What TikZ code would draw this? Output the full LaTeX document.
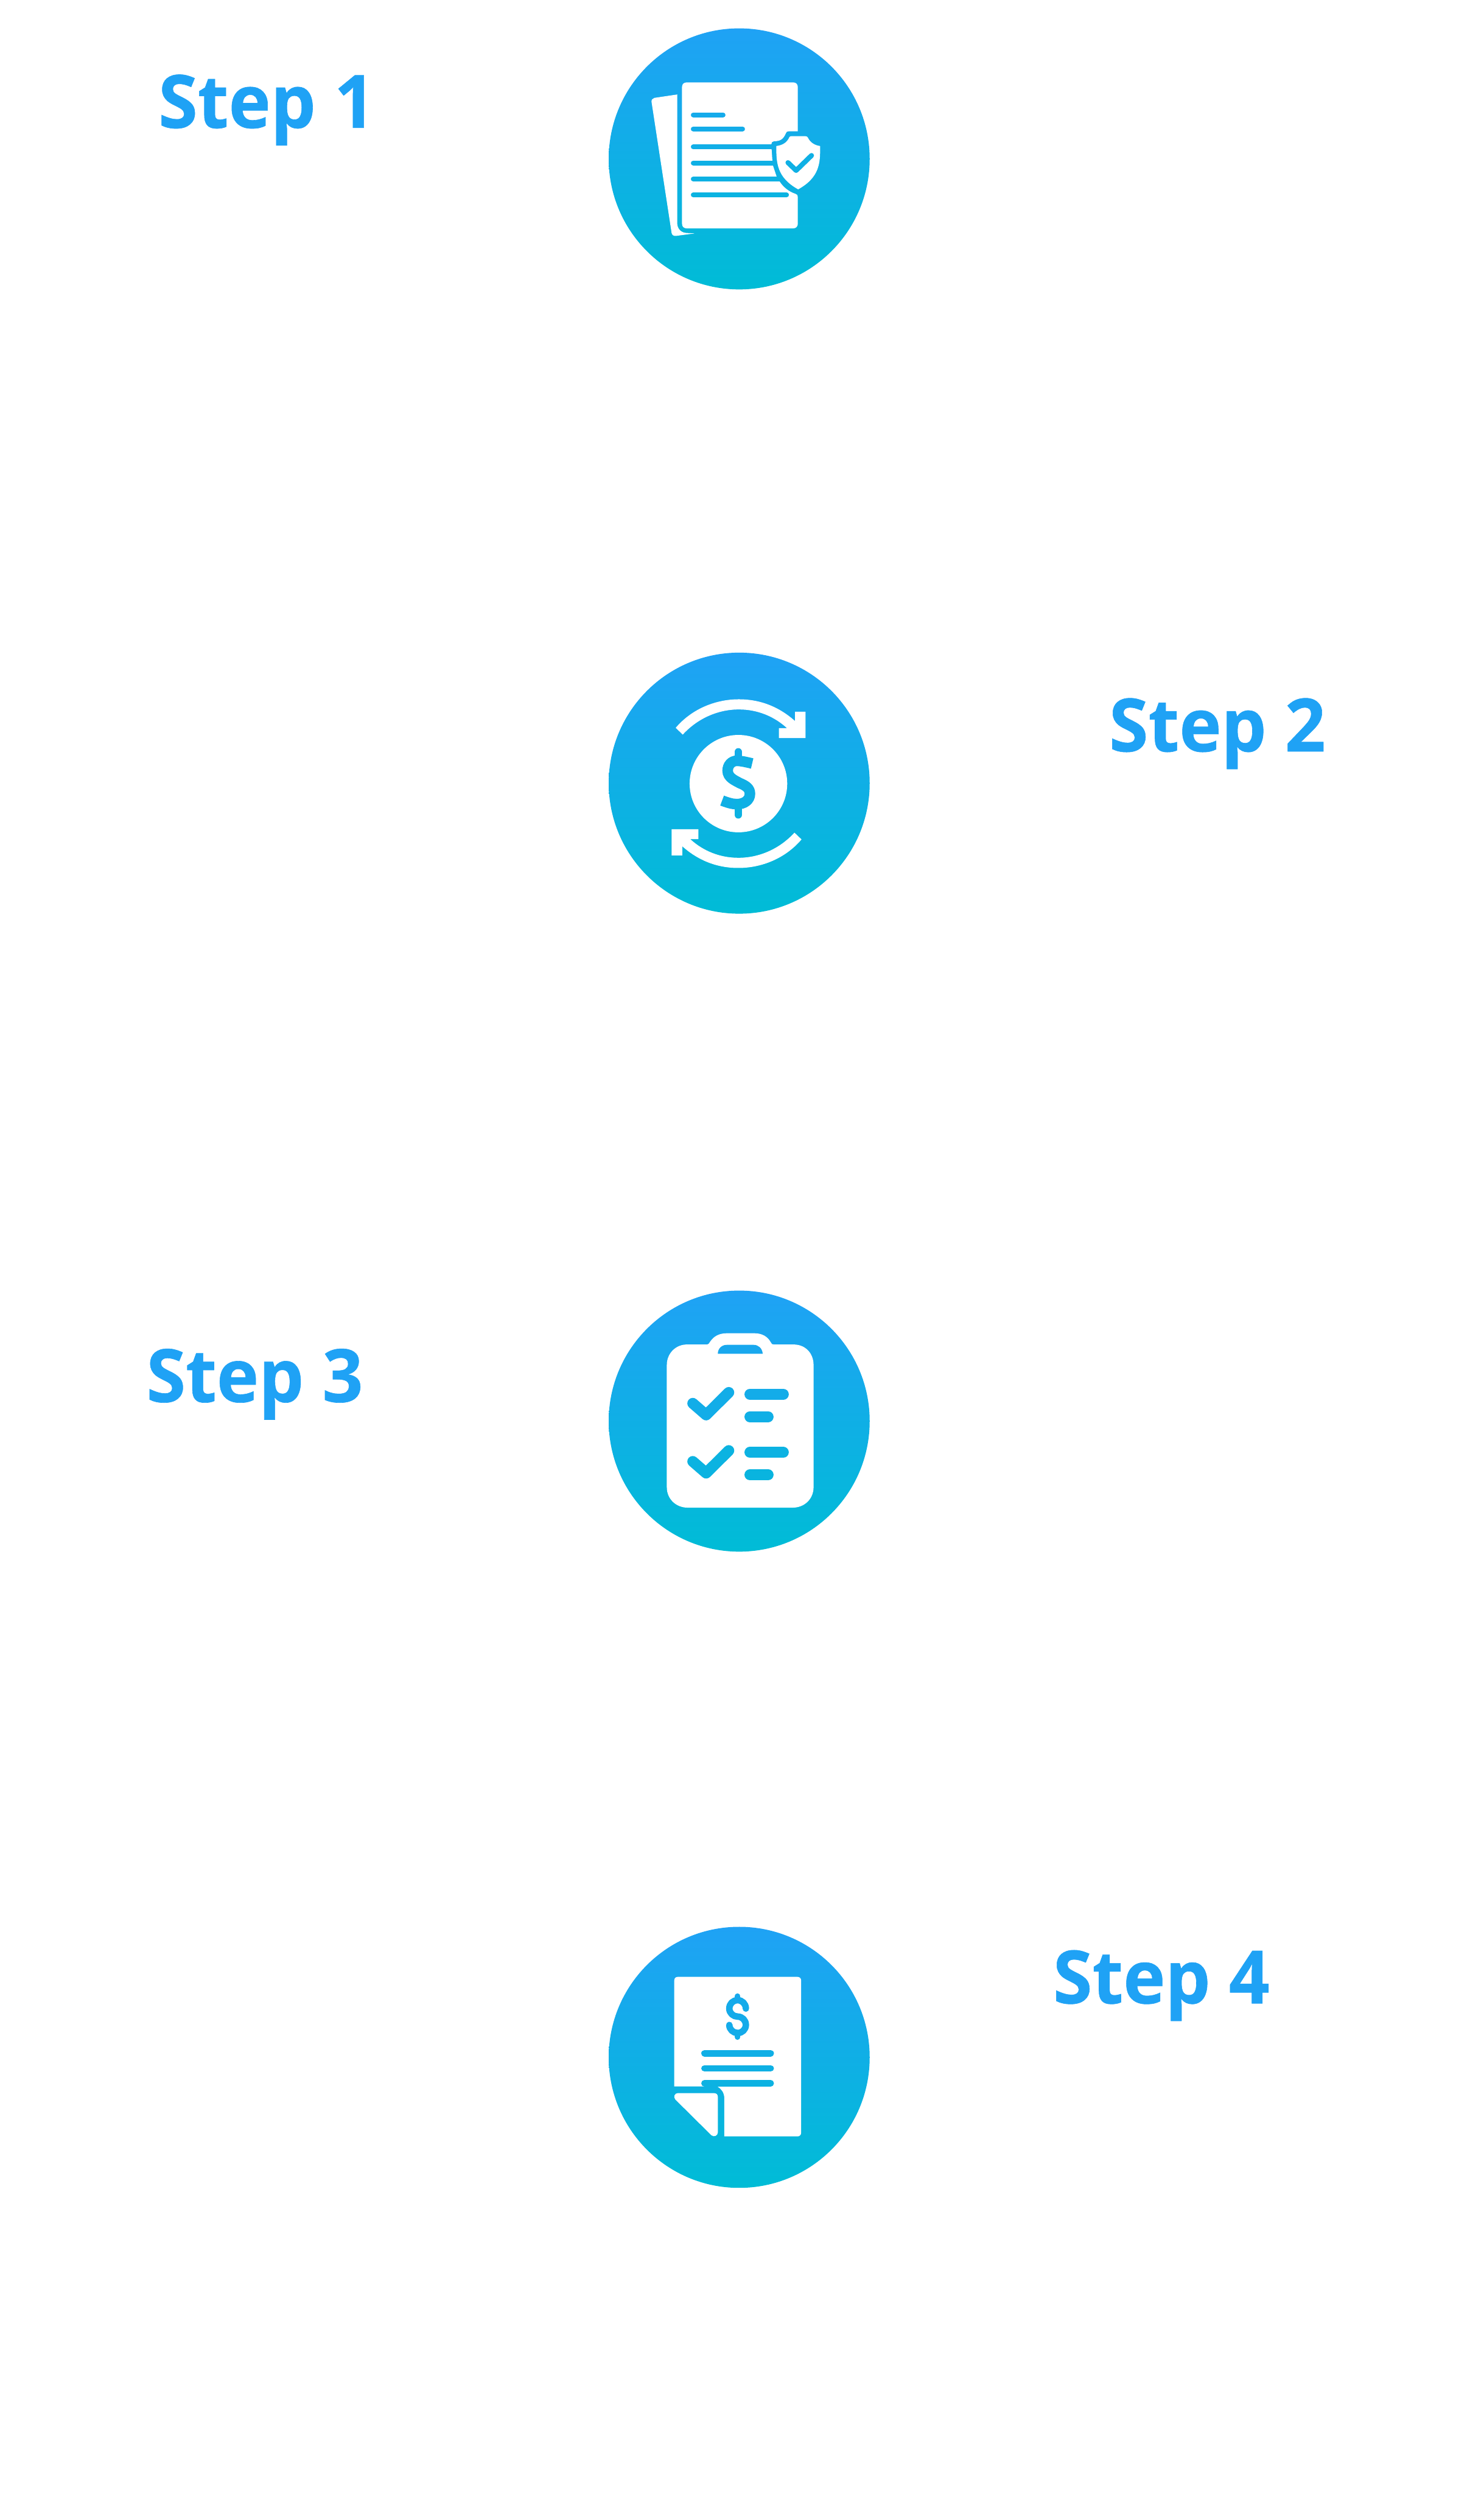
\documentclass[tikz,border=0pt]{standalone}
\usepackage{graphicx}
\usepackage{fontspec}
\setmainfont{Open Sans}[BoldFeatures={FakeBold=0.5}]
\definecolor{ct}{HTML}{1FA2F5}
\definecolor{cb}{HTML}{00BCD6}
\tikzset{
  disc/.style={circle,minimum size=7.64cm,inner sep=0pt,draw=none,top color=ct,bottom color=cb},
  steplabel/.style={anchor=base west,inner sep=0pt,text=ct,font=\fontsize{61.2}{70}\selectfont\bfseries},
  icon/.style={x=0.005435cm,y=-0.005222cm,xshift=17.5cm,yshift=-#1 cm},
  inky/.code={\pgfmathsetmacro\pp{min(100,max(0,(#1-35)/14.6))}\colorlet{ink}{cb!\pp!ct}\tikzset{color=ink}},
  bar/.style={line cap=round,line join=round,line width=#1 cm},
  sheet/.style={fill=white,draw=none}
}
\newcommand{\stext}[1]{\scalebox{.97}[1]{#1}}
\begin{document}
\begin{tikzpicture}
\useasboundingbox (0,0) rectangle (43.44,-72.99);
\node[disc] (c1) at (21.64,-4.65) {};
\node[disc] (c2) at (21.64,-22.92) {};
\node[disc] (c3) at (21.64,-41.59) {};
\node[disc] (c4) at (21.64,-60.21) {};
\node[steplabel] (s1) at (4.63,-3.74) {\stext{Step 1}};
\node[steplabel] (s2) at (32.46,-21.99) {\stext{Step 2}};
\node[steplabel] (s3) at (4.28,-41.03) {\stext{Step 3}};
\node[steplabel] (s4) at (30.82,-58.63) {\stext{Step 4}};
% icon 1
\begin{scope}[icon=0.60]
\path[sheet] (428,415) -- (305,434) .. controls (295,436) and (288,446) .. (290,458) -- (398,1192) .. controls (400,1203) and (410,1210) .. (422,1208) -- (522,1194) -- (484,1192) .. controls (450,1192) and (428,1170) .. (428,1135) -- cycle;
\path[sheet] (480,347) -- (1052,347) .. controls (1068,347) and (1078,357) .. (1078,373) -- (1078,621) -- (1030,621) .. controls (1020,621) and (1016,625) .. (1014,632) .. controls (1000,665) and (985,677) .. (950,677) .. controls (940,677) and (935,685) .. (935,695) -- (941,786) -- (944,813) -- (964,876) -- (980,903) .. controls (1000,935) and (1030,960) .. (1065,972) .. controls (1075,975) and (1078,980) .. (1078,990) -- (1078,1140) .. controls (1078,1156) and (1068,1166) .. (1052,1166) -- (480,1166) .. controls (464,1166) and (454,1156) .. (454,1140) -- (454,373) .. controls (454,357) and (464,347) .. (480,347) -- cycle;
\draw[bar=.145,inky=529] (515,529) -- (675,529);
\draw[bar=.145,inky=608] (515,608) -- (780,608);
\draw[bar=.145,inky=709] (515,709) -- (950,709);
\draw[bar=.145,inky=799] (515,799) -- (955,799);
\draw[bar=.145,inky=889] (515,889) -- (985,889);
\draw[bar=.145,inky=978] (515,978) -- (1017,978);
\path[sheet] (962,704) .. controls (995,700) and (1020,685) .. (1032,655) .. controls (1034,650) and (1038,649) .. (1042,649) -- (1120,649) .. controls (1126,649) and (1130,652) .. (1133,658) .. controls (1145,685) and (1170,700) .. (1198,704) .. controls (1200,800) and (1195,880) .. (1080,947) .. controls (965,880) and (962,800) .. (962,704) -- cycle;
\draw[bar=.145,inky=800] (1025,797) -- (1069,841) -- (1152,757);
\end{scope}
% icon 2
\begin{scope}[icon=18.90]
\path[sheet] (420,460) .. controls (510,350) and (640,300) .. (760,300) .. controls (880,300) and (980,345) .. (1063,422) -- (1063,370) -- (1120,370) -- (1120,517) -- (976,517) -- (976,462) -- (1020,462) .. controls (950,395) and (860,357) .. (760,357) .. controls (650,357) and (540,405) .. (458,498) -- cycle;
\path[sheet] (1098,1086) .. controls (1008,1196) and (878,1246) .. (758,1246) .. controls (638,1246) and (538,1201) .. (455,1124) -- (455,1176) -- (398,1176) -- (398,1029) -- (542,1029) -- (542,1084) -- (498,1084) .. controls (568,1151) and (658,1189) .. (758,1189) .. controls (868,1189) and (978,1141) .. (1060,1048) -- cycle;
\path[sheet] (758,773) ellipse [x radius=263,y radius=273];
\draw[inky=770,line width=.31cm] (832,660) .. controls (800,652) and (770,645) .. (750,645) .. controls (720,645) and (700,670) .. (700,700) .. controls (700,740) and (740,755) .. (765,770) .. controls (800,785) and (820,800) .. (820,830) .. controls (820,865) and (790,888) .. (750,888) .. controls (725,888) and (700,880) .. (670,868);
\draw[bar=.22,inky=600] (757,595) -- (757,650);
\draw[bar=.22,inky=940] (757,885) -- (757,948);
\end{scope}
% icon 3
\begin{scope}[icon=37.60]
\path[sheet] (480,335) -- (590,335) .. controls (597,335) and (600,328) .. (605,320) .. controls (625,288) and (655,272) .. (695,272) -- (845,272) .. controls (885,272) and (915,290) .. (932,322) .. controls (936,332) and (940,336) .. (950,335) -- (1055,335) .. controls (1120,335) and (1163,385) .. (1163,450) -- (1163,1135) .. controls (1163,1200) and (1115,1250) .. (1050,1250) -- (485,1250) .. controls (420,1250) and (372,1200) .. (372,1135) -- (372,450) .. controls (372,385) and (420,335) .. (480,335) -- cycle;
\fill[inky=360] (647,387) -- (889,387) .. controls (886,355) and (865,337) .. (840,337) -- (695,337) .. controls (668,337) and (647,358) .. (647,387) -- cycle;
\draw[bar=.32,inky=660] (512,665) -- (584,730) -- (706,604);
\draw[bar=.32,inky=614] (820,614) -- (1000,614);
\draw[bar=.32,inky=740] (820,740) -- (918,740);
\draw[bar=.32,inky=990] (512,991) -- (584,1056) -- (706,930);
\draw[bar=.32,inky=940] (820,940) -- (1000,940);
\draw[bar=.32,inky=1066] (820,1066) -- (918,1066);
\end{scope}
% icon 4
\begin{scope}[icon=56.20]
\path[sheet] (412,932) -- (412,338) .. controls (412,325) and (420,317) .. (432,317) -- (1075,317) .. controls (1088,317) and (1096,325) .. (1096,338) -- (1096,1190) .. controls (1096,1204) and (1088,1212) .. (1075,1212) -- (682,1212) -- (682,1000) .. controls (682,965) and (665,945) .. (645,932) -- cycle;
\path[sheet] (432,969) -- (625,969) .. controls (640,969) and (647,978) .. (647,990) -- (647,1190) .. controls (647,1208) and (625,1218) .. (612,1205) -- (418,1005) .. controls (405,990) and (415,969) .. (432,969) -- cycle;
\draw[bar=.19,inky=746] (575,746) -- (932,746);
\draw[bar=.19,inky=830] (575,830) -- (932,830);
\draw[bar=.19,inky=914] (575,914) -- (932,914);
\draw[bar=.19,inky=540] (798,495) .. controls (798,468) and (778,448) .. (754,448) .. controls (728,448) and (709,468) .. (709,495) .. controls (709,520) and (730,540) .. (754,540) .. controls (778,540) and (798,560) .. (798,587) .. controls (798,612) and (778,632) .. (754,632) .. controls (730,632) and (709,612) .. (709,587);
\draw[bar=.16,inky=430] (754,425) -- (754,450);
\draw[bar=.16,inky=650] (754,630) -- (754,655);
\end{scope}
\end{tikzpicture}
\end{document}
